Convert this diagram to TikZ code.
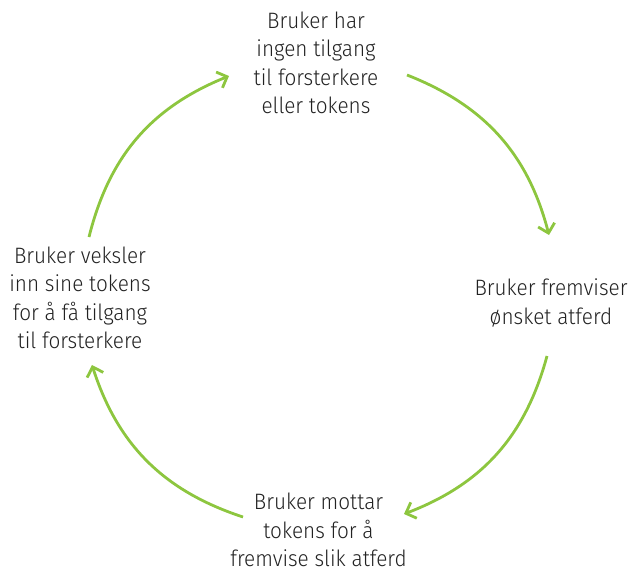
\documentclass[tikz,border=0pt]{standalone}
\usepackage{fontspec}
\setmainfont{Fira Sans}[UprightFont={* Light}, FakeStretch=0.93]
\usetikzlibrary{arrows.meta}
\definecolor{syklusgronn}{RGB}{141,198,63}
\definecolor{tekstgra}{RGB}{34,34,34}
\tikzset{
  steg/.style={align=center, text=tekstgra, inner sep=0pt,
    font=\fontsize{22.3}{28.5}\selectfont},
  pil/.style={syklusgronn, line width=2.8pt,
    -{Straight Barb[length=8.5pt,width=17pt]}}
}
\begin{document}
\begin{tikzpicture}[x=1pt,y=1pt]
        \useasboundingbox (0,0) rectangle (634,-573);
        % Tekst
        \node[steg] (ingen) at (316,-63) {Bruker har\\ingen tilgang\\til forsterkere\\eller tokens};
        \node[steg] (fremviser) at (551,-303) {Bruker fremviser\\ønsket atferd};
        \node[steg] (mottar) at (318.5,-530) {Bruker mottar\\tokens for å\\fremvise slik atferd};
        \node[steg] (veksler) at (80,-298) {Bruker veksler\\inn sine tokens\\for å få tilgang\\til forsterkere};
        % Endepunkter
        \coordinate (p1a) at (407,-75);
        \coordinate (p1b) at (549,-235);
        \coordinate (p2a) at (547,-356);
        \coordinate (p2b) at (404,-514);
        \coordinate (p3a) at (243,-517);
        \coordinate (p3b) at (92,-365);
        \coordinate (p4a) at (89,-237);
        \coordinate (p4b) at (229,-76);
        % Piler
        \draw[pil] (p1a) to[bend left=27] (p1b);
        \draw[pil] (p2a) to[bend left=27] (p2b);
        \draw[pil] (p3a) to[bend left=27] (p3b);
        \draw[pil] (p4a) to[bend left=27] (p4b);
    \end{tikzpicture}
\end{document}
